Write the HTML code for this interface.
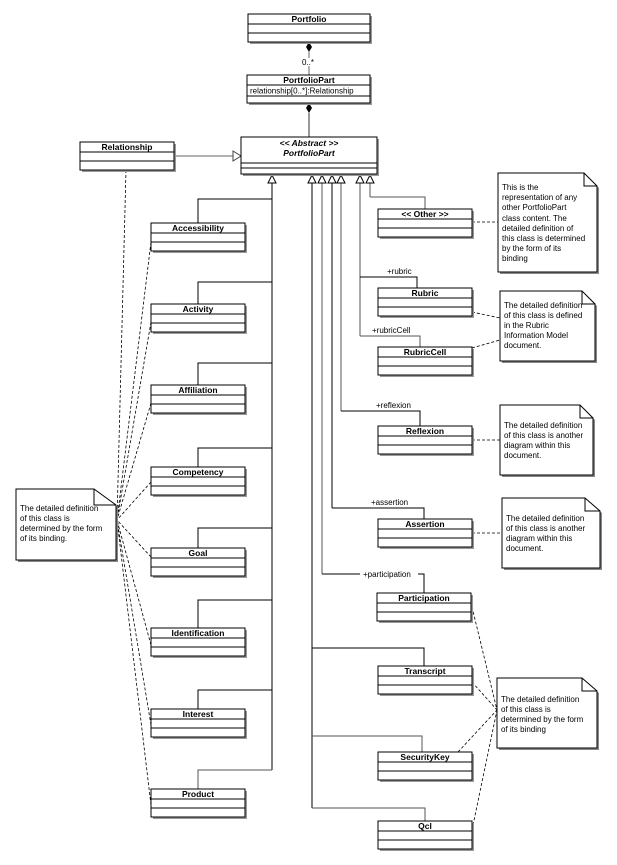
<!DOCTYPE html>
<html><head><meta charset="utf-8"><style>
html,body{margin:0;padding:0;background:#fff;width:617px;height:865px;overflow:hidden}
svg{display:block}
text{font-family:"Liberation Sans",Arial,sans-serif}
.t{font-size:8.5px;font-weight:bold;text-anchor:middle}
.n{font-size:8px}
.l{font-size:8px}
</style></head><body>
<svg width="617" height="865" viewBox="0 0 617 865" xmlns="http://www.w3.org/2000/svg">
<defs>
<g id="cls"><rect x="2" y="2" width="94" height="28" fill="#999"/><rect x="0" y="0" width="94" height="28" fill="#fff" stroke="#000" stroke-width="1"/><line x1="0" y1="10" x2="94" y2="10" stroke="#000"/><line x1="0" y1="19" x2="94" y2="19" stroke="#000"/></g>
</defs>
<g fill="none" stroke="#000" stroke-width="1">
<line x1="309" y1="52" x2="309" y2="58" stroke="#666"/>
<line x1="309" y1="66" x2="309" y2="75" stroke="#666"/>
<line x1="309" y1="113" x2="309" y2="137" stroke="#333"/>
<line x1="173" y1="156" x2="233" y2="156" stroke="#666"/>
<polygon points="233,151 241,156 233,161" fill="#fff" stroke="#444"/>
<line x1="272" y1="183" x2="272" y2="770"/>
<line x1="312" y1="183" x2="312" y2="808"/>
<line x1="322" y1="183" x2="322" y2="574" stroke="#555"/>
<line x1="332" y1="183" x2="332" y2="508"/>
<line x1="341" y1="183" x2="341" y2="411" stroke="#555"/>
<line x1="360" y1="183" x2="360" y2="336" stroke="#555"/>
<line x1="370" y1="183" x2="370" y2="197" stroke="#555"/>
<path d="M272 199 H198 V223"/>
<path d="M272 282 H198 V304"/>
<path d="M272 363 H198 V385"/>
<path d="M272 448 H198 V467"/>
<path d="M272 528 H198 V548"/>
<path d="M272 600 H198 V628"/>
<path d="M272 690 H198 V709"/>
<path d="M272 770 H198 V789" stroke="#555"/>
<path d="M370 197 H425 V209" stroke="#555"/>
<path d="M360 277 H417 V288"/>
<path d="M360 336 H420 V347" stroke="#555"/>
<path d="M341 411 H420 V426"/>
<path d="M332 508 H424 V519"/>
<path d="M322 574 H360 M418 574 H424 V593"/>
<path d="M312 648 H424 V666"/>
<path d="M312 736 H422 V752" stroke="#555"/>
<path d="M312 808 H425 V821" stroke="#555"/>
<g fill="#fff">
<polygon points="272,175 268,183 276,183"/>
<polygon points="312,175 308,183 316,183"/>
<polygon points="322,175 318,183 326,183"/>
<polygon points="332,175 328,183 336,183"/>
<polygon points="341,175 337,183 345,183"/>
<polygon points="360,175 356,183 364,183"/>
<polygon points="370,175 366,183 374,183"/>
</g>
<g stroke-dasharray="3,2" stroke-width="0.8">
<line x1="126" y1="170" x2="117" y2="520"/>
<line x1="151" y1="242" x2="117" y2="520"/>
<line x1="151" y1="322" x2="117" y2="520"/>
<line x1="151" y1="403" x2="117" y2="520"/>
<line x1="151" y1="482" x2="117" y2="520"/>
<line x1="151" y1="557" x2="117" y2="520"/>
<line x1="151" y1="645" x2="117" y2="520"/>
<line x1="151" y1="725" x2="117" y2="520"/>
<line x1="151" y1="805" x2="117" y2="520"/>
<line x1="472" y1="222" x2="498" y2="222"/>
<line x1="472" y1="312" x2="500" y2="318"/>
<line x1="472" y1="348" x2="500" y2="340"/>
<line x1="472" y1="440" x2="500" y2="440"/>
<line x1="472" y1="533" x2="502" y2="533"/>
<line x1="472" y1="607" x2="497" y2="710"/>
<line x1="472" y1="682" x2="497" y2="710"/>
<line x1="458" y1="752" x2="497" y2="710"/>
<line x1="472" y1="830" x2="497" y2="710"/>
</g>
</g>
<polygon points="309,42 312,47 309,52 306,47" fill="#000"/>
<polygon points="309,103 312,108 309,113 306,108" fill="#000"/>
<text x="302" y="65" class="l">0..*</text>

<rect x="250" y="16" width="122" height="28" fill="#999"/>
<rect x="248" y="14" width="122" height="28" fill="#fff" stroke="#000"/>
<line x1="248" y1="24" x2="370" y2="24" stroke="#000"/><line x1="248" y1="33" x2="370" y2="33" stroke="#000"/>
<text x="309" y="22" class="t">Portfolio</text>
<rect x="249" y="77" width="123" height="28" fill="#999"/>
<rect x="247" y="75" width="123" height="28" fill="#fff" stroke="#000"/>
<line x1="247" y1="85" x2="370" y2="85" stroke="#000"/><line x1="247" y1="96" x2="370" y2="96" stroke="#000"/>
<text x="309" y="83" class="t">PortfolioPart</text>
<text x="250" y="93.5" style="font-size:8px">relationship[0..*]:Relationship</text>
<rect x="243" y="139" width="136" height="37" fill="#999"/>
<rect x="241" y="137" width="136" height="37" fill="#fff" stroke="#000"/>
<line x1="241" y1="163" x2="377" y2="163" stroke="#000"/><line x1="241" y1="168" x2="377" y2="168" stroke="#000"/>
<text x="309" y="146" class="t" style="font-style:italic">&lt;&lt; Abstract &gt;&gt;</text>
<text x="309" y="156" class="t" style="font-style:italic">PortfolioPart</text>

<use href="#cls" x="80" y="142"/><text x="127" y="150" class="t">Relationship</text>
<use href="#cls" x="151" y="223"/><text x="198" y="231" class="t">Accessibility</text>
<use href="#cls" x="151" y="304"/><text x="198" y="312" class="t">Activity</text>
<use href="#cls" x="151" y="385"/><text x="198" y="393" class="t">Affiliation</text>
<use href="#cls" x="151" y="467"/><text x="198" y="475" class="t">Competency</text>
<use href="#cls" x="151" y="548"/><text x="198" y="556" class="t">Goal</text>
<use href="#cls" x="151" y="628"/><text x="198" y="636" class="t">Identification</text>
<use href="#cls" x="151" y="709"/><text x="198" y="717" class="t">Interest</text>
<use href="#cls" x="151" y="789"/><text x="198" y="797" class="t">Product</text>
<use href="#cls" x="378" y="209"/><text x="425" y="217" class="t">&lt;&lt; Other &gt;&gt;</text>
<use href="#cls" x="378" y="288"/><text x="425" y="296" class="t">Rubric</text>
<use href="#cls" x="378" y="347"/><text x="425" y="355" class="t">RubricCell</text>
<use href="#cls" x="378" y="426"/><text x="425" y="434" class="t">Reflexion</text>
<use href="#cls" x="378" y="519"/><text x="425" y="527" class="t">Assertion</text>
<use href="#cls" x="377" y="593"/><text x="424" y="601" class="t">Participation</text>
<use href="#cls" x="378" y="666"/><text x="425" y="674" class="t">Transcript</text>
<use href="#cls" x="378" y="752"/><text x="425" y="760" class="t">SecurityKey</text>
<use href="#cls" x="378" y="821"/><text x="425" y="829" class="t">Qcl</text>
<text x="387" y="274" class="l">+rubric</text>
<text x="372" y="333" class="l">+rubricCell</text>
<text x="376" y="408" class="l">+reflexion</text>
<text x="371" y="505" class="l">+assertion</text>
<text x="363" y="577" class="l">+participation</text>

<g stroke="#000" fill="#fff">
<path d="M500 175 H586 L599 188 V274 H500 Z" fill="#888" stroke="none"/>
<path d="M498 173 H584 L597 186 V272 H498 Z"/><path d="M584 173 V186 H597" fill="none"/>
<path d="M502 293 H584 L597 306 V363 H502 Z" fill="#888" stroke="none"/>
<path d="M500 291 H582 L595 304 V361 H500 Z"/><path d="M582 291 V304 H595" fill="none"/>
<path d="M502 407 H582 L595 420 V477 H502 Z" fill="#888" stroke="none"/>
<path d="M500 405 H580 L593 418 V475 H500 Z"/><path d="M580 405 V418 H593" fill="none"/>
<path d="M504 500 H587 L602 513 V570 H504 Z" fill="#888" stroke="none"/>
<path d="M502 498 H585 L600 511 V568 H502 Z"/><path d="M585 498 V511 H600" fill="none"/>
<path d="M499 680 H584 L599 693 V750 H499 Z" fill="#888" stroke="none"/>
<path d="M497 678 H582 L597 691 V748 H497 Z"/><path d="M582 678 V691 H597" fill="none"/>
<path d="M18 491 H96 L118 507 V562 H18 Z" fill="#888" stroke="none"/>
<path d="M16 489 H94 L116 505 V560 H16 Z"/><path d="M94 489 V505 H116" fill="none"/>
</g>
<g class="n">
<text x="502" y="190" class="n">This is the</text>
<text x="502" y="200" class="n">representation of any</text>
<text x="502" y="210" class="n">other PortfolioPart</text>
<text x="502" y="221" class="n">class content.  The</text>
<text x="502" y="231" class="n">detailed definition of</text>
<text x="502" y="241" class="n">this class is determined</text>
<text x="502" y="251" class="n">by the form of its</text>
<text x="502" y="261" class="n">binding</text>
<text x="504" y="308" class="n">The detailed definition</text>
<text x="504" y="318" class="n">of this class is defined</text>
<text x="504" y="328" class="n">in the Rubric</text>
<text x="504" y="338" class="n">Information Model</text>
<text x="504" y="348" class="n">document.</text>
<text x="504" y="428" class="n">The detailed definition</text>
<text x="504" y="438" class="n">of this class is another</text>
<text x="504" y="448" class="n">diagram within this</text>
<text x="504" y="458" class="n">document.</text>
<text x="506" y="521" class="n">The detailed definition</text>
<text x="506" y="531" class="n">of this class is another</text>
<text x="506" y="541" class="n">diagram within this</text>
<text x="506" y="551" class="n">document.</text>
<text x="501" y="702" class="n">The detailed definition</text>
<text x="501" y="712" class="n">of this class is</text>
<text x="501" y="722" class="n">determined by the form</text>
<text x="501" y="732" class="n">of its binding</text>
<text x="20" y="511" class="n">The detailed definition</text>
<text x="20" y="521" class="n">of this class is</text>
<text x="20" y="531" class="n">determined by the form</text>
<text x="20" y="541" class="n">of its binding.</text>
</g>
</svg>
</body></html>
